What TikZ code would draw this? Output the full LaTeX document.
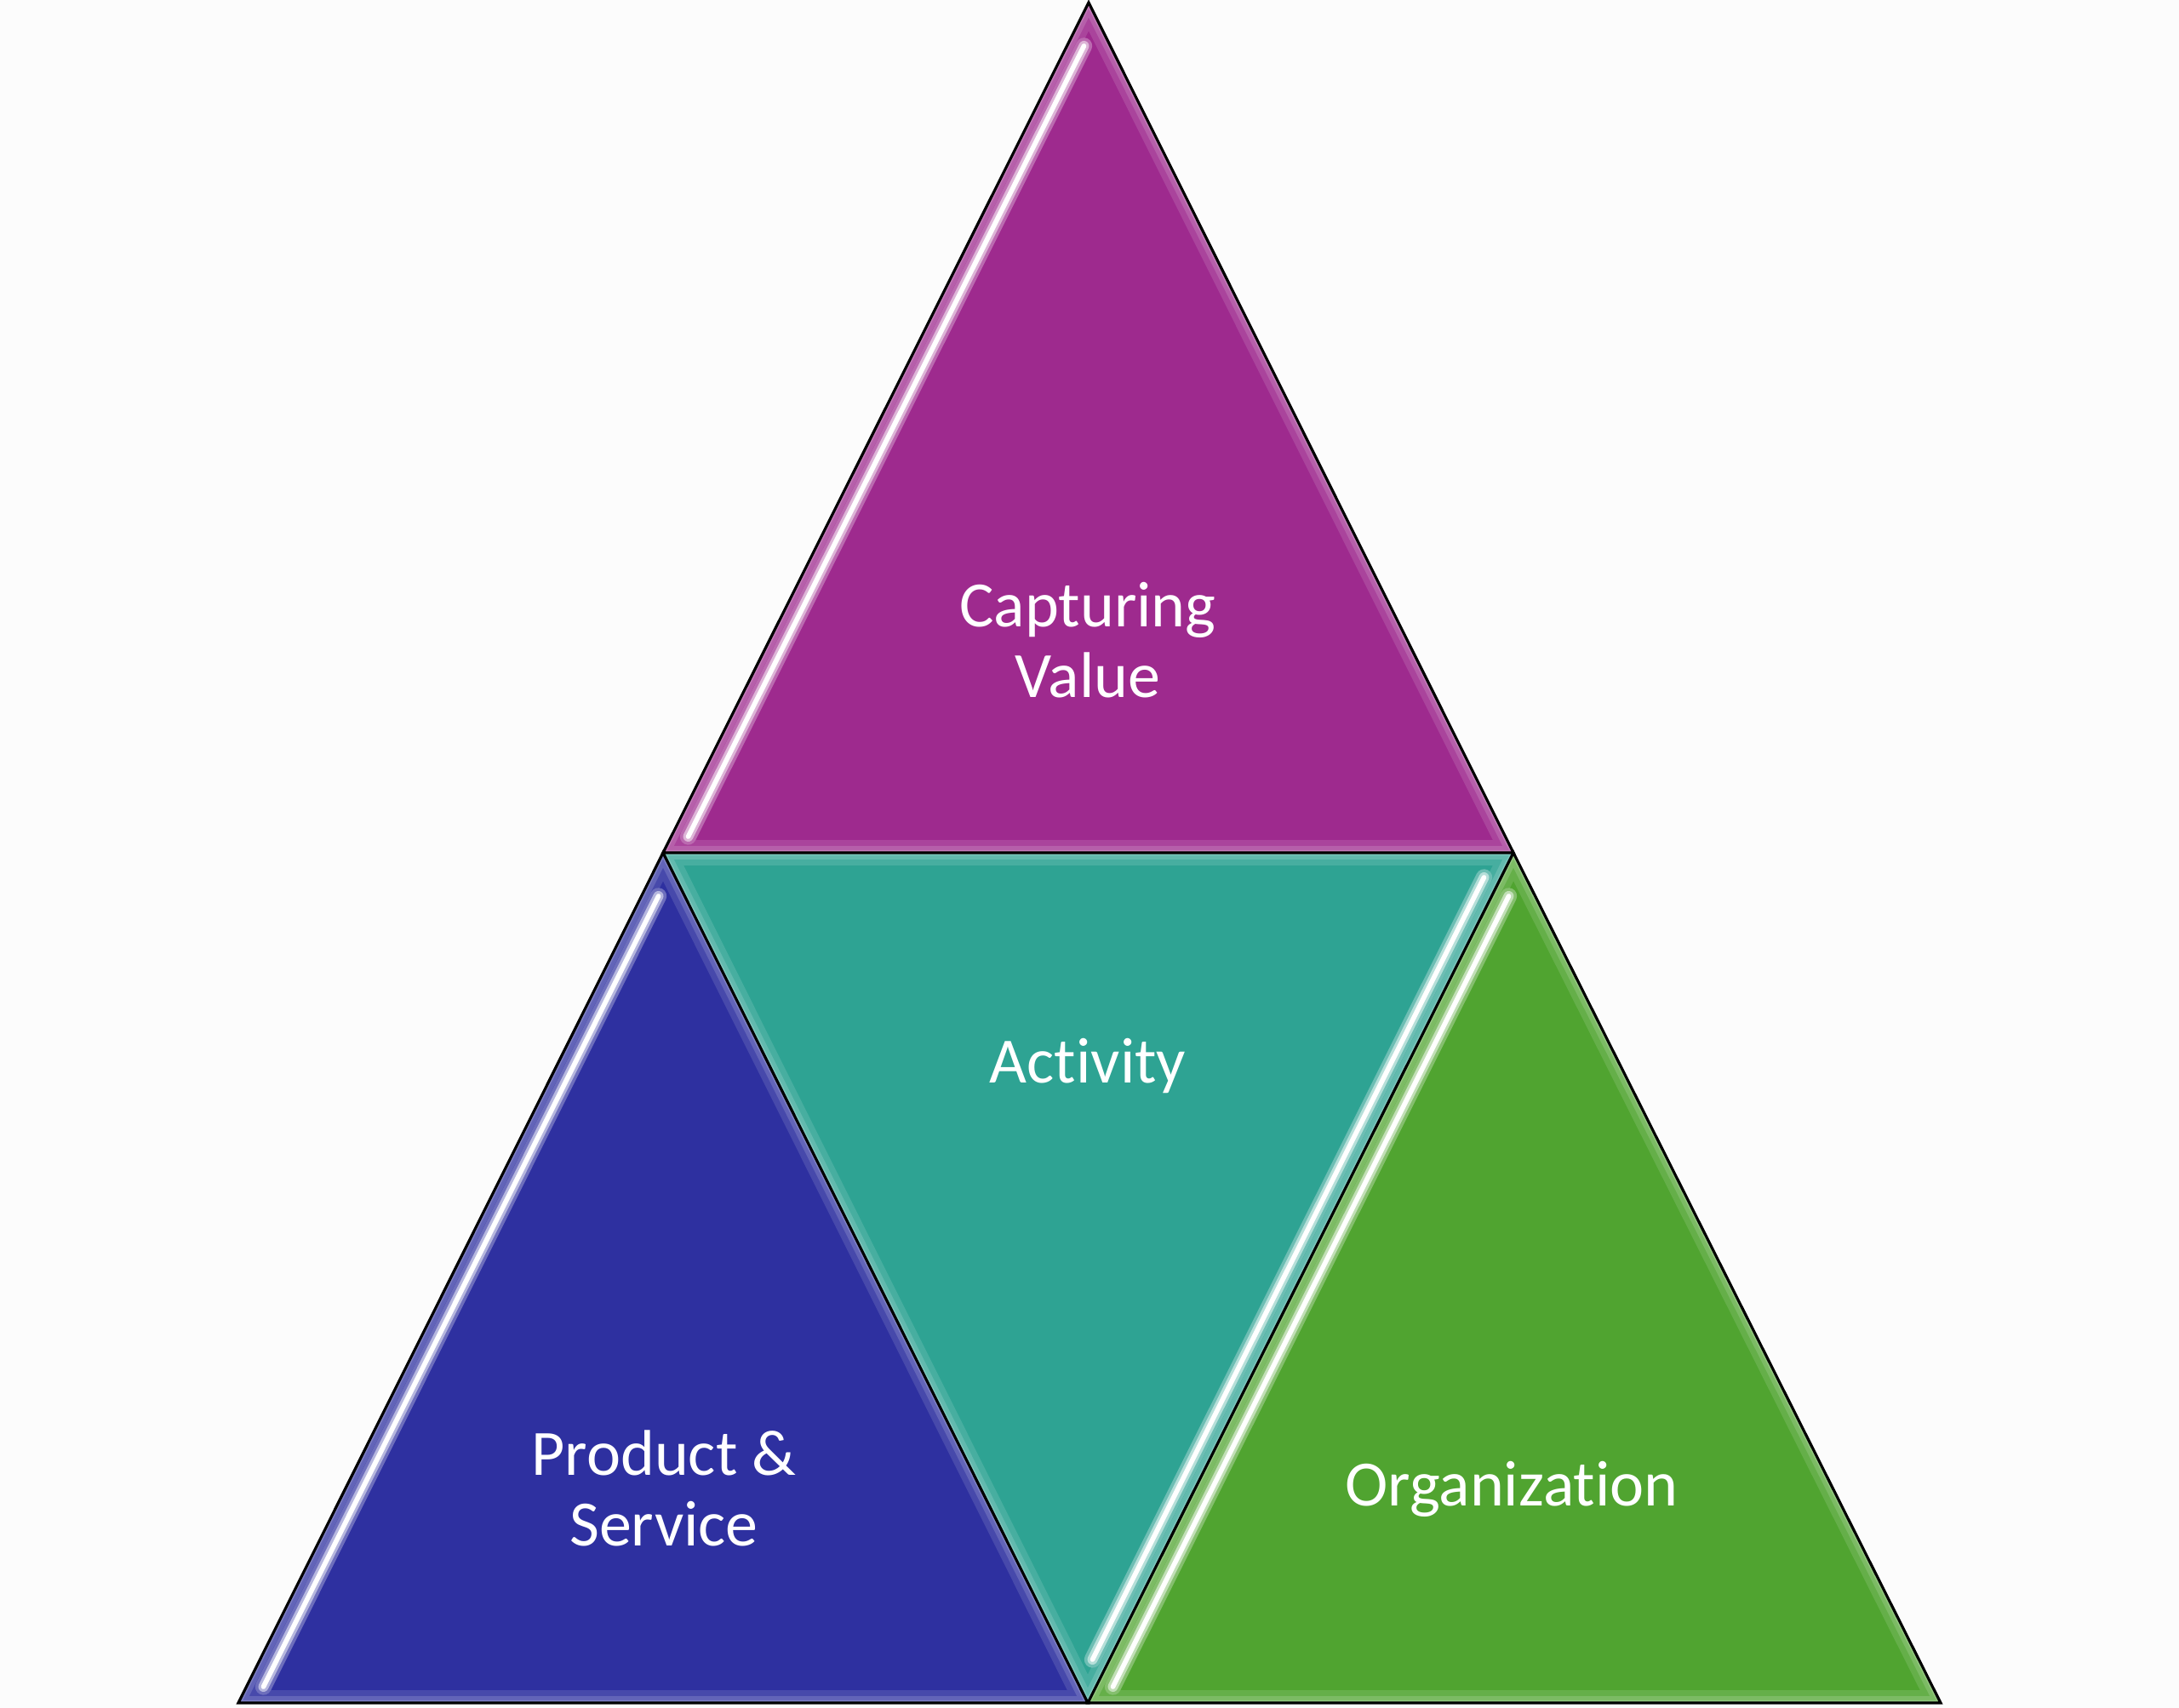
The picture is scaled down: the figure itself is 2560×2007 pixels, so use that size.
\documentclass[tikz,border=0pt]{standalone}
\usepackage{fontspec}
\setmainfont[Ligatures=NoCommon]{Carlito}
\usetikzlibrary{calc}
\definecolor{cpurple}{RGB}{158,42,142}
\definecolor{cteal}{RGB}{46,163,147}
\definecolor{cblue}{RGB}{46,48,160}
\definecolor{cgreen}{RGB}{80,164,48}
\definecolor{bgc}{RGB}{252,252,252}
\tikzset{
  lbl/.style={text=white, align=center, font=\fontsize{21.6}{23.6}\selectfont},
  outl/.style={draw=black, line width=0.9pt, line join=miter},
}
\newcommand{\bevtri}[4]{%
  \fill[#1] #2 -- #3 -- #4 -- cycle;
  \begin{scope}
    \clip #2 -- #3 -- #4 -- cycle;
    \draw[#1!88!white, line width=8.5pt, line join=miter] #2 -- #3 -- #4 -- cycle;
    \draw[#1!75!white, line width=4.5pt, line join=miter] #2 -- #3 -- #4 -- cycle;
    \draw[#1!62!white, line width=1.8pt, line join=miter] #2 -- #3 -- #4 -- cycle;
  \end{scope}
}
\newcommand{\hilite}[3]{%
  \draw[#1!70!white, line width=5.5pt, line cap=round] #2 -- #3;
  \draw[#1!35!white, line width=3.4pt, line cap=round] #2 -- #3;
  \draw[white, line width=1.6pt, line cap=round] #2 -- #3;
}
\begin{document}
\begin{tikzpicture}[x=0.01cm, y=-0.01cm]
\fill[bgc] (0,0) rectangle (2560,2007);
\useasboundingbox (0,0) rectangle (2560,2007);
\coordinate (ap) at (1279,3);
\coordinate (lm) at (779,1002);
\coordinate (rm) at (1778,1002);
\coordinate (bl) at (280,2001);
\coordinate (bm) at (1278,2001);
\coordinate (br) at (2280,2001);

\bevtri{cpurple}{(ap)}{(lm)}{(rm)}
\bevtri{cblue}{(lm)}{(bl)}{(bm)}
\bevtri{cgreen}{(rm)}{(bm)}{(br)}
\bevtri{cteal}{(lm)}{(rm)}{(bm)}

\hilite{cpurple}{($(ap)!0.045!(lm)+(17,6)$)}{($(ap)!0.975!(lm)+(17,6)$)}
\hilite{cblue}{($(lm)!0.045!(bl)+(17,6)$)}{($(lm)!0.975!(bl)+(17,6)$)}
\hilite{cgreen}{($(rm)!0.045!(bm)+(17,6)$)}{($(rm)!0.975!(bm)+(17,6)$)}
\hilite{cteal}{($(rm)!0.035!(bm)+(-17,-6)$)}{($(rm)!0.955!(bm)+(-17,-6)$)}

\draw[outl] (ap) -- (lm) -- (rm) -- cycle;
\draw[outl] (lm) -- (bl) -- (bm) -- cycle;
\draw[outl] (rm) -- (bm) -- (br) -- cycle;

\node[lbl] (cv) at (1278,752) {Capturing\\Value};
\node[lbl] (act) at (1278,1252) {Activity};
\node[lbl] (ps) at (780,1749) {Product \&\\Service};
\node[lbl] (org) at (1776,1750) {Organization};
\end{tikzpicture}
\end{document}
